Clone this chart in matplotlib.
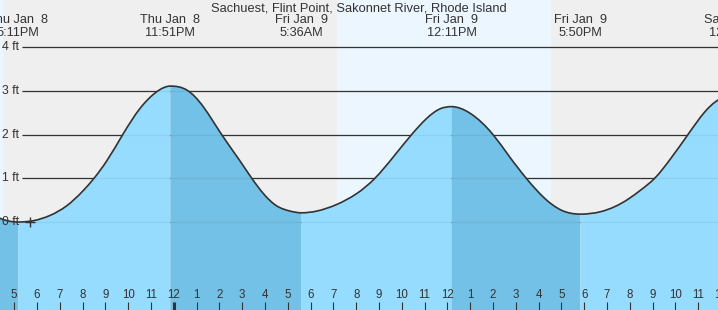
import numpy as np
import matplotlib
matplotlib.use("Agg")
import matplotlib.pyplot as plt
from matplotlib.path import Path
from matplotlib.patches import PathPatch

plt.rcParams['font.family'] = ['Liberation Sans', 'DejaVu Sans']

# ---- data (hours relative to midnight Fri Jan 9) ----
title = "Sachuest, Flint Point, Sakonnet River, Rhode Island"
# tide height readings along the curve (hours, ft)
tide_hours = [-8.30, -7.62, -6.82, -6.16, -5.43, -4.70, -3.97, -3.50, -2.94, -2.24,
              -1.48, -0.75, -0.15, 0.57, 1.29, 2.10, 2.90, 3.42, 3.93, 4.51,
              5.10, 5.60, 6.27, 7.14, 8.02, 8.82, 9.63, 10.43, 11.09, 11.68,
              12.18, 12.99, 14.00, 14.73, 15.46, 16.27, 17.00, 17.83, 18.75,
              19.92, 20.50, 21.09, 21.82, 22.55, 23.29, 23.87, 24.60]
tide_ft = [0.30, 0.085, 0.0, 0.03, 0.15, 0.37, 0.72, 1.00, 1.40, 2.00,
           2.60, 2.98, 3.11, 3.02, 2.64, 2.00, 1.40, 1.00, 0.65, 0.37,
           0.25, 0.21, 0.25, 0.40, 0.65, 1.00, 1.49, 2.00, 2.37, 2.59,
           2.64, 2.49, 2.00, 1.49, 1.00, 0.54, 0.27, 0.18, 0.24,
           0.52, 0.74, 1.00, 1.47, 2.00, 2.52, 2.79, 2.90]
event_hours = [-6.817, -0.15, 5.6, 12.183, 17.833, 24.6]
event_day = ["Thu Jan  8", "Thu Jan  8", "Fri Jan  9", "Fri Jan  9", "Fri Jan  9", "Sat Jan 10"]
event_time = ["5:11PM", "11:51PM", "5:36AM", "12:11PM", "5:50PM", "12:36AM"]
sun_events = [-7.5, 7.15, 16.53]          # sunset Thu, sunrise Fri, sunset Fri
ft_levels = [0, 1, 2, 3, 4]
ft_labels = ["0 ft", "1 ft", "2 ft", "3 ft", "4 ft"]
hour_ticks = list(range(-7, 25))
hour_labels = [str((h % 12) if (h % 12) else 12) for h in hour_ticks]
now_hour, now_ft = -6.3, 0.0

# ---- layout ----
W, H = 718, 310
x0_px, px_per_h = 173.8, 22.8
y0_px, px_per_ft = 222.0, 43.7
xmin, xmax = -x0_px / px_per_h, (W - x0_px) / px_per_h
ymax, ymin = y0_px / px_per_ft, (y0_px - H) / px_per_ft

def ypx(p):
    return (y0_px - p) / px_per_ft

def xpx(p):
    return (p - x0_px) / px_per_h

NIGHT = '#efefef'
DAY = '#ecf6ff'
LIGHT = '#96dcff'
DARK = '#73c1e6'
INK = '#333333'

fig = plt.figure(figsize=(W / 100, H / 100), dpi=100)
ax = fig.add_axes([0, 0, 1, 1])
ax.set_xlim(xmin, xmax)
ax.set_ylim(ymin, ymax)
ax.set_facecolor(NIGHT)
ax.axis('off')
fig.patch.set_facecolor(NIGHT)

# day shading
ax.axvspan(xmin - 1, sun_events[0], color=DAY, lw=0, zorder=0)
ax.axvspan(sun_events[1], sun_events[2], color=DAY, lw=0, zorder=0)

# grid lines
gx0 = xpx(22)
for lv in ft_levels:
    ax.plot([gx0, xmax + 1], [lv, lv], color=INK, lw=0.9, zorder=1, solid_capstyle='butt')

# ---- smooth curve through the readings (spline slopes, Bezier pieces) ----
th = np.array(tide_hours, float)
tf = np.array(tide_ft, float)
n = len(th)
ext = [i for i in range(1, n - 1) if (tf[i] - tf[i - 1]) * (tf[i + 1] - tf[i]) <= 0]
bounds = [0] + ext + [n - 1]
slopes = np.zeros(n)
for a, b in zip(bounds[:-1], bounds[1:]):
    t = th[a:b + 1]
    y = tf[a:b + 1]
    m = len(t)
    hh = np.diff(t)
    d = np.diff(y) / hh
    A = np.zeros((m, m))
    r = np.zeros(m)
    # start condition
    if a in ext:
        A[0, 0] = 1.0
    else:
        A[0, 0], A[0, 1], r[0] = 2.0, 1.0, 3 * d[0]
    # end condition
    if b in ext:
        A[-1, -1] = 1.0
    else:
        A[-1, -2], A[-1, -1], r[-1] = 1.0, 2.0, 3 * d[-1]
    for k in range(1, m - 1):
        A[k, k - 1] = hh[k]
        A[k, k] = 2 * (hh[k - 1] + hh[k])
        A[k, k + 1] = hh[k - 1]
        r[k] = 3 * (hh[k] * d[k - 1] + hh[k - 1] * d[k])
    slopes[a:b + 1] = np.linalg.solve(A, r)

def bezier_pieces(i0, i1):
    verts = [(th[i0], tf[i0])]
    codes = [Path.MOVETO]
    for i in range(i0, i1):
        dt = th[i + 1] - th[i]
        verts += [(th[i] + dt / 3, tf[i] + slopes[i] * dt / 3),
                  (th[i + 1] - dt / 3, tf[i + 1] - slopes[i + 1] * dt / 3),
                  (th[i + 1], tf[i + 1])]
        codes += [Path.CURVE4] * 3
    return verts, codes

# rising / falling water colours
bottom = ymin - 1
for a, b in zip(bounds[:-1], bounds[1:]):
    verts, codes = bezier_pieces(a, b)
    verts += [(th[b], bottom), (th[a], bottom), (th[a], tf[a])]
    codes += [Path.LINETO, Path.LINETO, Path.CLOSEPOLY]
    falling = tf[b] < tf[a]
    ax.add_patch(PathPatch(Path(verts, codes), facecolor=DARK if falling else LIGHT,
                           edgecolor='none', lw=0, zorder=2))

verts, codes = bezier_pieces(0, n - 1)
ax.add_patch(PathPatch(Path(verts, codes), facecolor='none', edgecolor=INK,
                       lw=1.2, zorder=4))

# faint grid lines visible through the water
for lv in ft_levels:
    ax.plot([gx0, xmax + 1], [lv, lv], color=INK, lw=0.9, alpha=0.08, zorder=3)

# y labels
for lv, lab in zip(ft_levels, ft_labels):
    ax.text(xpx(2.5), lv, lab, fontsize=8.8, color=INK, ha='left', va='center', zorder=5)

# now marker
ax.plot([now_hour], [now_ft], marker='+', ms=7, mew=1.0, color=INK, zorder=5)

# title and event labels
ax.text((xmin + xmax) / 2, ypx(8.0), title, fontsize=9.3, color=INK, ha='center', va='center', zorder=6)
for h, d, tm in zip(event_hours, event_day, event_time):
    ax.text(h, ypx(19.5), d, fontsize=9.2, color=INK, ha='center', va='center', zorder=6)
    ax.text(h, ypx(32.5), tm, fontsize=9.2, color=INK, ha='center', va='center', zorder=6)

# hour ticks and labels
for h, lab in zip(hour_ticks, hour_labels):
    ax.plot([h, h], [ypx(302), ymin - 0.1], color=INK, lw=2.2 if h == 0 else 0.8,
            zorder=6, solid_capstyle='butt')
    ax.text(h, ypx(295), lab, fontsize=8.3, color=INK, ha='center', va='center', zorder=6)

fig.savefig('out.png', dpi=100, facecolor=fig.get_facecolor())
